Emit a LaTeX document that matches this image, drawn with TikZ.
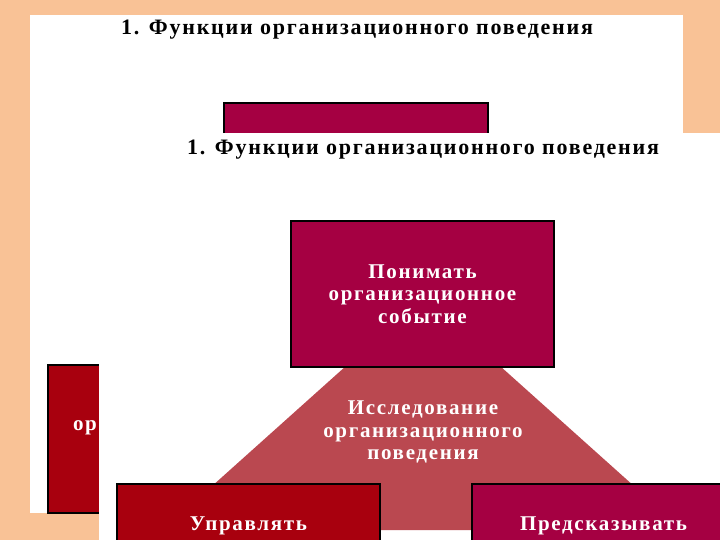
\documentclass[tikz,border=0pt]{standalone}
\usepackage{fontspec}
\setmainfont{Liberation Serif}
\newfontfamily\slidefont{Liberation Serif}[LetterSpace=8]
\usepackage{tikz}
\usetikzlibrary{positioning}
\definecolor{OBPeach}{RGB}{249,194,150}
\definecolor{OBMagenta}{RGB}{165,0,66}
\definecolor{OBRed}{RGB}{168,0,14}
\definecolor{OBRose}{RGB}{186,72,80}

\begin{document}
\begin{tikzpicture}[x=1pt, y=-1pt,
    box/.style={draw=black, line width=2pt, rectangle, inner sep=0pt, text=white,
      font=\slidefont\bfseries\fontsize{21}{22.5}\selectfont, align=center},
    title/.style={font=\slidefont\bfseries\fontsize{22}{24}\selectfont}]
        % Page
        \useasboundingbox (0,0) rectangle (720,540);
        \clip (0,0) rectangle (720,540);
        \fill[OBPeach] (0,0) rectangle (720,540);
        
        % Back slide
        \fill[white] (30,15) rectangle (683,513);
        \node[title] (backtitle) at (357,30) {1. Функции организационного поведения};
        \node[box, fill=OBMagenta, anchor=north west, minimum width=264pt, minimum height=80pt] (backtop) at (223,102) {};
        \node[box, fill=OBRed, anchor=north west, minimum width=100pt, minimum height=148pt] (backleft) at (47,364) {};
        \node[box, draw=none, anchor=west] (backtext) at (72,428) {ор};
        
        % Front slide
        \fill[white] (99,133) rectangle (720,540);
        \node[title] (fronttitle) at (423,150) {1. Функции организационного поведения};
        \fill[OBRose] (423,297) -- (683,530) -- (163,530) -- cycle;
        \node[box, fill=OBMagenta, minimum width=263pt, minimum height=146pt] (understand) at (422.5,294)
          {Понимать\\организационное\\событие};
        \node[box, fill=OBRed, anchor=north west, minimum width=263pt, minimum height=84pt] (control) at (116,483)
          {Управлять};
        \node[box, fill=OBMagenta, anchor=north west, minimum width=263pt, minimum height=84pt] (predict) at (471,483)
          {Предсказывать};
        \node[box, draw=none] (study) at (423,432) {Исследование\\организационного\\поведения};
    \end{tikzpicture}
\end{document}
